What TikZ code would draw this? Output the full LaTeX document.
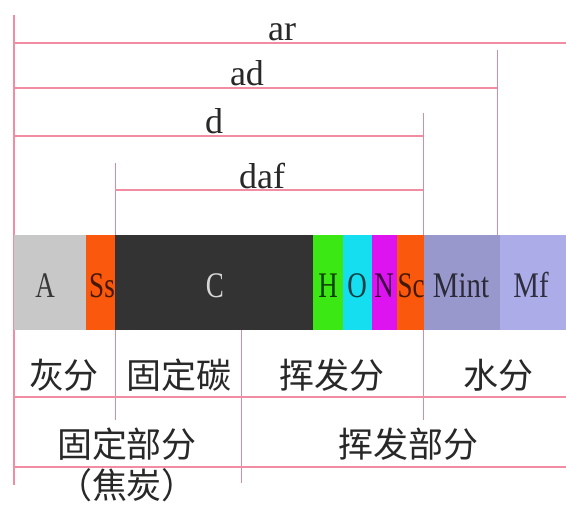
\documentclass[tikz,border=0pt]{standalone}
\usepackage{fontspec}
\setmainfont{Liberation Serif}
\newfontfamily\cjk{Noto Sans CJK SC}
\definecolor{hl}{RGB}{242,140,162}
\definecolor{vl}{RGB}{218,140,156}
\definecolor{cA}{RGB}{200,200,200}
\definecolor{cS}{RGB}{250,88,12}
\definecolor{cC}{RGB}{51,51,51}
\definecolor{cH}{RGB}{60,232,20}
\definecolor{cO}{RGB}{20,222,240}
\definecolor{cN}{RGB}{222,20,240}
\definecolor{cMi}{RGB}{152,152,204}
\definecolor{cMf}{RGB}{172,172,232}
\definecolor{ink}{RGB}{40,40,40}
\tikzset{
  hline/.style={hl, line width=1.8pt},
  vline/.style={vl, line width=1pt},
  lat/.style={anchor=base, inner sep=0pt, font=\fontsize{36}{36}\selectfont, text=ink},
  barlab/.style={anchor=base, inner sep=0pt, font=\fontsize{36}{36}\selectfont, text=black, text opacity=0.72},
  cn/.style={anchor=base, inner sep=0pt, font=\cjk\fontsize{35}{35}\selectfont, text=ink}
}
\begin{document}
\begin{tikzpicture}[x=1pt,y=-1pt]
\useasboundingbox (0,0) rectangle (566,506);
\fill[white] (0,0) rectangle (566,506);
% vertical lines
\draw[hline] (14,15) -- (14,485);
\draw[vline] (497,50) -- (497,235);
\draw[vline] (423,113) -- (423,420);
\draw[vline] (115,163) -- (115,420);
\draw[vline] (241,330) -- (241,483);
% horizontal lines
\draw[hline] (14,43) -- (566,43);
\draw[hline] (14,88) -- (497,88);
\draw[hline] (14,136) -- (423,136);
\draw[hline] (115,190) -- (423,190);
\draw[hline] (14,397) -- (566,397);
\draw[hline] (14,467) -- (566,467);
% bar segments
\fill[cA]  (13.5,235) rectangle (86,330);
\fill[cS]  (86,235) rectangle (115,330);
\fill[cC]  (115,235) rectangle (313,330);
\fill[cH]  (313,235) rectangle (343,330);
\fill[cO]  (343,235) rectangle (372,330);
\fill[cN]  (372,235) rectangle (397,330);
\fill[cS]  (397,235) rectangle (424,330);
\fill[cMi] (424,235) rectangle (500,330);
\fill[cMf] (500,235) rectangle (566,330);
% top labels
\node[lat] (ar) at (282,40) {ar};
\node[lat] (ad) at (247,85) {ad};
\node[lat] (d) at (214,133) {d};
\node[lat] (daf) at (262,188) {daf};
% bar labels
\node[barlab] (lA) at (45,297) {\scalebox{0.75}[1]{A}};
\node[barlab] (lSs) at (102,297) {\scalebox{0.75}[1]{Ss}};
\node[barlab, text=white, text opacity=0.8] (lC) at (215,297) {\scalebox{0.75}[1]{C}};
\node[barlab] (lH) at (328,297) {\scalebox{0.75}[1]{H}};
\node[barlab] (lO) at (357,297) {\scalebox{0.75}[1]{O}};
\node[barlab] (lN) at (384,297) {\scalebox{0.75}[1]{N}};
\node[barlab] (lSc) at (411,297) {\scalebox{0.75}[1]{Sc}};
\node[barlab] (lMi) at (461,297) {\scalebox{0.8}[1]{Mint}};
\node[barlab] (lMf) at (531,297) {\scalebox{0.8}[1]{Mf}};
% chinese labels
\node[cn] (t1) at (64,388) {灰分};
\node[cn] (t2) at (179,388) {固定碳};
\node[cn] (t3) at (332,388) {挥发分};
\node[cn] (t4) at (498,388) {水分};
\node[cn] (t5) at (127,457) {固定部分};
\node[cn] (t6) at (408,457) {挥发部分};
\node[cn] (t7) at (127,498) {（焦炭）};
\end{tikzpicture}
\end{document}
